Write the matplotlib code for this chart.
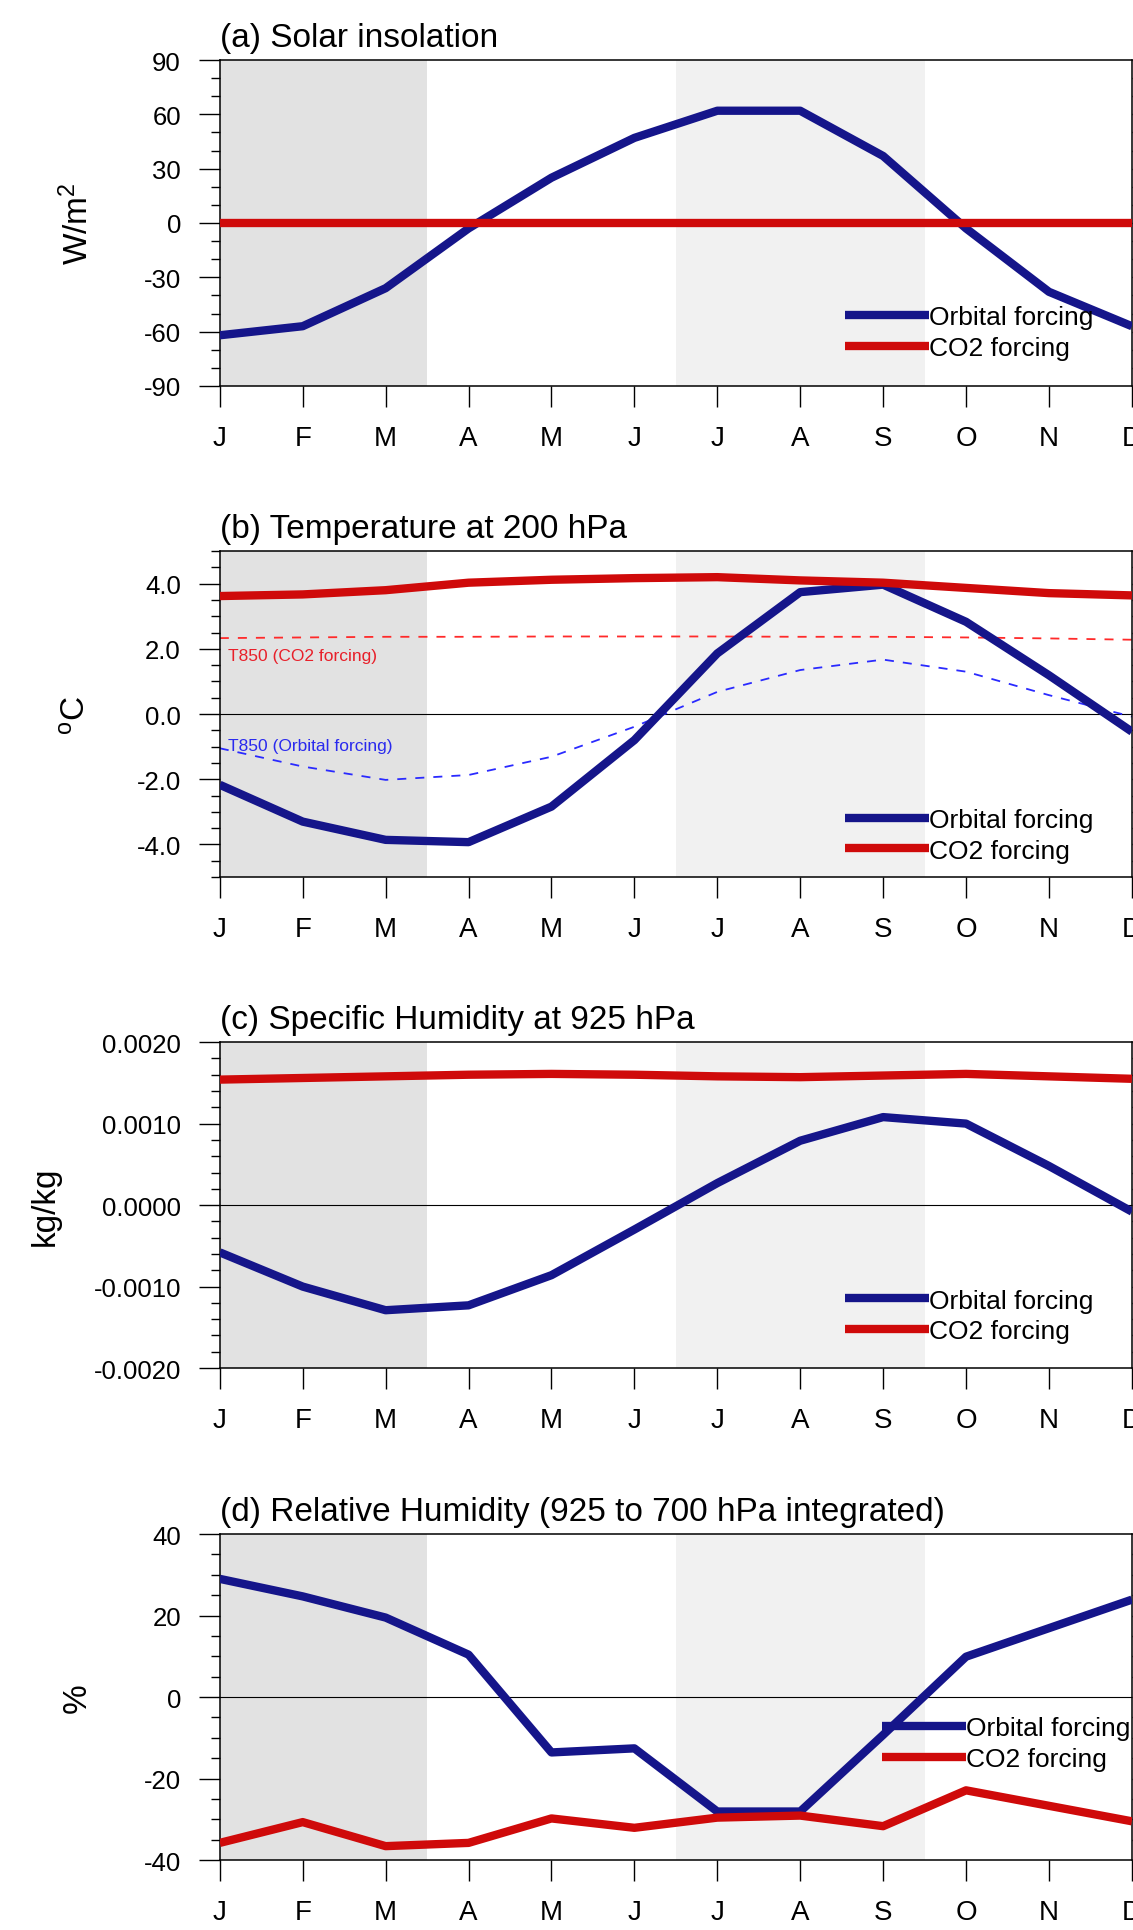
import matplotlib
matplotlib.use("Agg")
import matplotlib.pyplot as plt
from matplotlib.ticker import MultipleLocator, FormatStrFormatter

plt.rcParams['font.family'] = ['Liberation Sans', 'DejaVu Sans']
plt.rcParams['mathtext.fontset'] = 'custom'
plt.rcParams['mathtext.rm'] = 'Liberation Sans'
plt.rcParams['mathtext.it'] = 'Liberation Sans:italic'
plt.rcParams['axes.unicode_minus'] = False

months = ["J", "F", "M", "A", "M", "J", "J", "A", "S", "O", "N", "D"]
x = list(range(12))

# (a) solar insolation, W/m2
insol_orb = [-62, -57, -36, -3, 25, 47, 62, 62, 37, -3, -38, -57]
insol_co2 = [0, 0, 0, 0, 0, 0, 0, 0, 0, 0, 0, 0]

# (b) temperature at 200 hPa and 850 hPa, degC
t200_orb = [-2.17, -3.30, -3.86, -3.93, -2.84, -0.80, 1.86, 3.74, 3.97, 2.83, 1.19, -0.54]
t200_co2 = [3.62, 3.67, 3.80, 4.03, 4.12, 4.17, 4.20, 4.10, 4.03, 3.87, 3.71, 3.64]
t850_orb = [-1.05, -1.61, -2.02, -1.87, -1.31, -0.39, 0.68, 1.35, 1.67, 1.30, 0.58, -0.08]
t850_co2 = [2.33, 2.35, 2.37, 2.37, 2.38, 2.38, 2.38, 2.37, 2.37, 2.35, 2.32, 2.28]

# (c) specific humidity at 925 hPa, kg/kg
q925_orb = [-0.00058, -0.00100, -0.00129, -0.00123, -0.00086, -0.00030,
            0.00027, 0.00079, 0.00108, 0.00100, 0.00048, -0.00008]
q925_co2 = [0.00154, 0.00156, 0.00158, 0.00160, 0.00161, 0.00160,
            0.00158, 0.00157, 0.00159, 0.00161, 0.00158, 0.00155]

# (d) relative humidity 925-700 hPa, %
rh_orb = [29.0, 24.7, 19.5, 10.4, -13.6, -12.6, -28.1, -28.1, -9.3, 9.9, 16.9, 23.9]
rh_co2 = [-35.8, -30.7, -36.6, -35.8, -29.8, -32.1, -29.6, -29.1, -31.7, -22.9, -26.7, -30.5]

# shaded seasons (month index)
jfm = (0, 2.5)
jas = (5.5, 8.5)

blue = '#15158a'
red = '#cf0a0a'

panels = [
    dict(title="(a) Solar insolation", ylabel="W/m$^2$", orb=insol_orb, co2=insol_co2,
         ylim=(-90, 90), major=30, minor=10, fmt='%d', ylab_x=-0.156, leg=(0.685, 0.164)),
    dict(title="(b) Temperature at 200 hPa", ylabel="$^\\mathrm{o}$C", orb=t200_orb, co2=t200_co2,
         ylim=(-5, 5), major=2, minor=0.5, fmt='%.1f', ylab_x=-0.156, leg=(0.685, 0.128)),
    dict(title="(c) Specific Humidity at 925 hPa", ylabel="kg/kg", orb=q925_orb, co2=q925_co2,
         ylim=(-0.002, 0.002), major=0.001, minor=0.0002, fmt='%.4f', ylab_x=-0.191, leg=(0.685, 0.160)),
    dict(title="(d) Relative Humidity (925 to 700 hPa integrated)", ylabel="%", orb=rh_orb, co2=rh_co2,
         ylim=(-40, 40), major=20, minor=5, fmt='%d', ylab_x=-0.156, leg=(0.726, 0.357)),
]

fig = plt.figure(figsize=(11.33, 19.31), dpi=100)
bottoms = [0.7996, 0.5453, 0.2910, 0.03625]

for p, b in zip(panels, bottoms):
    ax = fig.add_axes([0.194, b, 0.805, 0.1688])
    ax.axvspan(*jfm, color='#e2e2e2', lw=0, zorder=0)
    ax.axvspan(*jas, color='#f1f1f1', lw=0, zorder=0)
    ax.axhline(0, color='black', lw=0.8, zorder=1)

    if p['orb'] is t200_orb:
        ax.plot(x, t850_co2, color='#ff2a2a', lw=1.3, ls=(0, (5, 5)), zorder=2)
        ax.plot(x, t850_orb, color='#2a2aff', lw=1.3, ls=(0, (5, 5)), zorder=2)
        ax.text(0.1, 1.8, "T850 (CO2 forcing)", color='#e8202a', fontsize=12.5, va='center')
        ax.text(0.1, -0.98, "T850 (Orbital forcing)", color='#2a2aee', fontsize=12.5, va='center')

    ax.plot(x, p['orb'], color=blue, lw=6, solid_capstyle='butt', label="Orbital forcing", zorder=3)
    ax.plot(x, p['co2'], color=red, lw=6, solid_capstyle='butt', label="CO2 forcing", zorder=3)

    ax.set_xlim(0, 11)
    ax.set_ylim(*p['ylim'])
    ax.set_xticks(x)
    ax.set_xticklabels(months)
    ax.yaxis.set_major_locator(MultipleLocator(p['major']))
    ax.yaxis.set_minor_locator(MultipleLocator(p['minor']))
    ax.yaxis.set_major_formatter(FormatStrFormatter(p['fmt']))
    ax.tick_params(axis='x', direction='out', length=15, width=1.0, pad=13, labelsize=20)
    ax.tick_params(axis='y', which='major', direction='out', length=15, width=1.0, pad=13,
                   labelsize=18.5, right=True)
    ax.tick_params(axis='y', which='minor', direction='out', length=6.5, width=1.0, right=True)
    for s in ax.spines.values():
        s.set_linewidth(1.1)

    ax.text(0, 1.042, p['title'], transform=ax.transAxes, fontsize=24, ha='left', va='baseline')
    ylab = ax.set_ylabel(p['ylabel'], fontsize=24)
    ylab.set_verticalalignment('center')
    ax.yaxis.set_label_coords(p['ylab_x'], 0.5)

    ax.legend(loc='center left', bbox_to_anchor=p['leg'], frameon=False, fontsize=19,
              handlelength=3.2, handletextpad=0.0, labelspacing=0.25, borderpad=0, borderaxespad=0)

fig.savefig("out.png", dpi=100)
